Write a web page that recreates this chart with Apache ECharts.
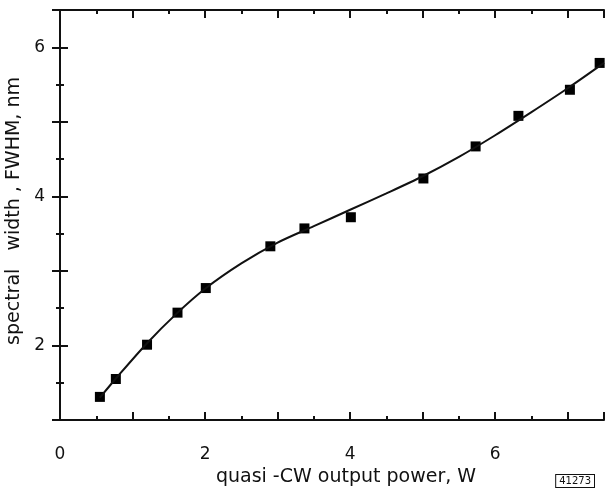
<!DOCTYPE html>
<html>
<head>
<meta charset="utf-8">
<script src="https://cdn.jsdelivr.net/npm/echarts@6/dist/echarts.min.js"></script>
<style>
  html, body { margin: 0; padding: 0; background: #fff; }
  #main { width: 607px; height: 491px; }
</style>
</head>
<body>
<div id="main"></div>
<script>
// measured points (W, nm)
var powerW = [0.55, 0.77, 1.2, 1.62, 2.01, 2.9, 3.37, 4.01, 5.01, 5.73, 6.32, 7.03, 7.44];
var fwhmNm = [1.31, 1.55, 2.01, 2.44, 2.77, 3.33, 3.57, 3.72, 4.24, 4.67, 5.08, 5.43, 5.79];
// fitted curve drawn through the points
var fitX = [0.55, 0.8, 1.2, 1.6, 2.0, 2.5, 3.0, 3.5, 4.0, 4.5, 5.0, 5.5, 6.0, 6.5, 7.0, 7.5];
var fitY = [1.30, 1.59, 2.03, 2.42, 2.76, 3.10, 3.38, 3.60, 3.82, 4.04, 4.27, 4.53, 4.82, 5.13, 5.45, 5.79];
var xLabels = [0, 2, 4, 6];
var yLabels = [2, 4, 6];

var font = 'DejaVu Sans';
var black = '#111';

function pairs(a, b) {
    var out = [];
    for (var i = 0; i < a.length; i++) out.push([a[i], b[i]]);
    return out;
}

// two axes per side: short ticks every 0.5, long ticks every 1
function xAx(pos, step, len, line, labels) {
    return {
        type: 'value', position: pos, min: 0, max: 7.5, interval: step,
        axisLine: { show: line, lineStyle: { color: black, width: 2 } },
        axisTick: { inside: true, length: len, lineStyle: { color: black, width: 2 } },
        axisLabel: {
            show: labels, margin: 26, color: black, fontFamily: font, fontSize: 17,
            formatter: function (v) { return xLabels.indexOf(v) >= 0 ? String(v) : ''; }
        },
        splitLine: { show: false }
    };
}
function yAx(pos, step, len, line, labels) {
    return {
        type: 'value', position: pos, min: 1, max: 6.5, interval: step,
        axisLine: { show: line, lineStyle: { color: black, width: 2 } },
        axisTick: { inside: true, length: len, lineStyle: { color: black, width: 2 } },
        axisLabel: {
            show: labels, margin: 15, color: black, fontFamily: font, fontSize: 17,
            formatter: function (v) { return yLabels.indexOf(v) >= 0 ? String(v) : ''; }
        },
        splitLine: { show: false }
    };
}

var chart = echarts.init(document.getElementById('main'));

var xMain = xAx('bottom', 1, 8, false, true);
xMain.name = 'quasi -CW output power, W';
xMain.nameLocation = 'middle';
xMain.nameGap = 40;
xMain.nameTextStyle = { color: black, fontFamily: font, fontSize: 19, padding: [0, 0, 0, 28] };

var yMain = yAx('left', 1, 8, false, true);
yMain.name = 'spectral   width , FWHM, nm';
yMain.nameLocation = 'middle';
yMain.nameGap = 26;
yMain.nameTextStyle = { color: black, fontFamily: font, fontSize: 19, padding: [0, 0, 0, 8] };

var option = {
    animation: false,
    backgroundColor: '#fff',
    grid: { left: 60, right: 3, top: 10, bottom: 71, outerBoundsMode: 'none' },
    xAxis: [
        xAx('bottom', 0.5, 4, true, false),
        xMain,
        xAx('top', 0.5, 4, true, false),
        xAx('top', 1, 8, false, false)
    ],
    yAxis: [
        yAx('left', 0.5, 4, true, false),
        yMain,
        yAx('right', 0.5, 4, true, false),
        yAx('right', 1, 8, false, false)
    ],
    graphic: [{
        type: 'text', right: 12, bottom: 3,
        style: {
            text: '41273', fill: black, font: '10px "DejaVu Sans"',
            backgroundColor: '#fff', borderColor: black, borderWidth: 1, padding: [1, 3]
        }
    }],
    series: [{
        name: 'fit', type: 'line', xAxisIndex: 0, yAxisIndex: 0,
        data: pairs(fitX, fitY), smooth: 0.3, showSymbol: false,
        lineStyle: { color: black, width: 2 }
    }, {
        name: 'measured', type: 'scatter', xAxisIndex: 0, yAxisIndex: 0,
        data: pairs(powerW, fwhmNm), symbol: 'rect', symbolSize: 10,
        itemStyle: { color: '#000', opacity: 1 }
    }]
};

chart.setOption(option);
</script>
</body>
</html>
